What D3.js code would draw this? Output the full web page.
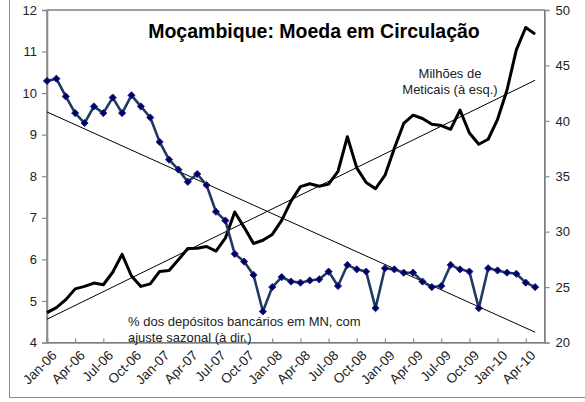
<!DOCTYPE html>
<html><head><meta charset="utf-8">
<script src="https://cdn.jsdelivr.net/npm/d3@7"></script>
<style>
body{margin:0;background:#fff}
svg{display:block}
text{font-family:"Liberation Sans",Arial,Helvetica,sans-serif}
</style>
</head><body>
<svg id="chart" width="585" height="402"></svg>
<script>
// ---- data ----
const months = [
 "Jan-06","Feb-06","Mar-06","Apr-06","May-06","Jun-06","Jul-06","Aug-06","Sep-06","Oct-06","Nov-06","Dec-06",
 "Jan-07","Feb-07","Mar-07","Apr-07","May-07","Jun-07","Jul-07","Aug-07","Sep-07","Oct-07","Nov-07","Dec-07",
 "Jan-08","Feb-08","Mar-08","Apr-08","May-08","Jun-08","Jul-08","Aug-08","Sep-08","Oct-08","Nov-08","Dec-08",
 "Jan-09","Feb-09","Mar-09","Apr-09","May-09","Jun-09","Jul-09","Aug-09","Sep-09","Oct-09","Nov-09","Dec-09",
 "Jan-10","Feb-10","Mar-10","Apr-10","May-10"];
const tickLabels = ["Jan-06","Apr-06","Jul-06","Oct-06","Jan-07","Apr-07","Jul-07","Oct-07","Jan-08",
 "Apr-08","Jul-08","Oct-08","Jan-09","Apr-09","Jul-09","Oct-09","Jan-10","Apr-10"];
// Moeda em circulação, milhões de meticais (eixo esquerdo)
const circulacao = [4.72,4.84,5.03,5.29,5.35,5.43,5.39,5.69,6.12,5.60,5.35,5.41,
 5.71,5.73,5.99,6.26,6.27,6.31,6.20,6.51,7.14,6.77,6.38,6.46,
 6.60,6.94,7.40,7.75,7.82,7.76,7.81,8.12,8.95,8.20,7.85,7.70,
 8.02,8.67,9.27,9.47,9.39,9.25,9.22,9.13,9.59,9.04,8.77,8.89,
 9.37,10.07,11.04,11.58,11.42];
// % dos depósitos bancários em MN (eixo direito)
const depositosPct = [43.6,43.8,42.2,40.7,39.8,41.3,40.7,42.1,40.7,42.3,41.3,40.3,
 38.1,36.5,35.6,34.5,35.2,34.2,31.8,31.0,28.0,27.3,26.1,22.8,
 25.0,25.9,25.5,25.4,25.6,25.7,26.4,25.1,27.0,26.6,26.4,23.1,
 26.7,26.6,26.3,26.3,25.5,25.0,25.1,27.0,26.6,26.4,23.1,26.7,
 26.5,26.3,26.2,25.4,25.0];
// linear trend end values (first and last month)
const trendCirculacao = [4.56, 10.31];
const trendDepositos = [40.8, 20.93];
const leftTicks = [4,5,6,7,8,9,10,11,12];
const rightTicks = [20,25,30,35,40,45,50];
const title = "Moçambique: Moeda em Circulação";
const noteLeft = ["Milhões de","Meticais (à esq.)"];
const noteRight = ["% dos depósitos bancários em MN, com","ajuste sazonal (à dir.)"];

// ---- layout ----
const svg = d3.select("#chart");
const L = 47, R = 544.5, T = 10, B = 342.5;
const x = d3.scaleLinear().domain([0, months.length]).range([L, R]);
const yL = d3.scaleLinear().domain([4, 12]).range([B, T]);
const yR = d3.scaleLinear().domain([20, 50]).range([B, T]);
const idx = m => months.indexOf(m);

// outer frame
svg.append("rect").attr("x",9.5).attr("y",-5).attr("width",600).attr("height",402.5)
  .attr("fill","none").attr("stroke","#8c8c8c").attr("stroke-width",1);

// plot area frame
svg.append("rect").attr("x",L).attr("y",T).attr("width",R-L).attr("height",B-T)
  .attr("fill","none").attr("stroke","#404040").attr("stroke-width",1);

// left axis
const gL = svg.append("g").attr("transform",`translate(${L},0)`)
  .call(d3.axisLeft(yL).tickValues(leftTicks).tickSize(5).tickPadding(5).tickFormat(d3.format("d")));
// right axis
const gR = svg.append("g").attr("transform",`translate(${R},0)`)
  .call(d3.axisRight(yR).tickValues(rightTicks).tickSize(5).tickPadding(6).tickFormat(d3.format("d")));
// bottom axis (ticks inside)
const gB = svg.append("g").attr("transform",`translate(0,${B})`)
  .call(d3.axisBottom(x).tickValues(tickLabels.map(idx)).tickSize(-4).tickFormat(""));
[gL,gR,gB].forEach(g=>{
  g.select(".domain").attr("stroke","#8c8c8c").attr("stroke-width",1.6);
  g.selectAll(".tick line").attr("stroke","#8c8c8c").attr("stroke-width",1.2);
  g.selectAll(".tick text").attr("fill","#222").style("font-size","13px")
   .style("font-family",'"Liberation Sans",Arial,sans-serif');
});

// x tick labels rotated
svg.append("g").selectAll("text").data(tickLabels).join("text")
  .attr("transform", d => `translate(${x(idx(d))+4},${B+7}) rotate(-45)`)
  .attr("text-anchor","end").attr("dy","0.7em")
  .attr("fill","#222").style("font-size","13.5px").text(d=>d);

// trend lines
const last = months.length - 1;
svg.append("line").attr("x1",x(0)).attr("y1",yL(trendCirculacao[0]))
  .attr("x2",x(last)).attr("y2",yL(trendCirculacao[1]))
  .attr("stroke","#000").attr("stroke-width",1);
svg.append("line").attr("x1",x(0)).attr("y1",yR(trendDepositos[0]))
  .attr("x2",x(last)).attr("y2",yR(trendDepositos[1]))
  .attr("stroke","#000").attr("stroke-width",1);

// black line (circulação)
svg.append("path").datum(circulacao)
  .attr("d", d3.line().x((d,i)=>x(i)).y(d=>yL(d)))
  .attr("fill","none").attr("stroke","#000").attr("stroke-width",3)
  .attr("stroke-linejoin","round");

// blue line with diamonds (depósitos)
svg.append("path").datum(depositosPct)
  .attr("d", d3.line().x((d,i)=>x(i)).y(d=>yR(d)))
  .attr("fill","none").attr("stroke","#1f3a60").attr("stroke-width",2.6)
  .attr("stroke-linejoin","round");
const sym = d3.symbol().type(d3.symbolSquare).size(26);
svg.append("g").selectAll("path").data(depositosPct).join("path")
  .attr("d", sym)
  .attr("transform",(d,i)=>`translate(${x(i)},${yR(d)}) rotate(45)`)
  .attr("fill","#000066").attr("stroke","#1a1a80").attr("stroke-width",0.8);

// title
svg.append("text").attr("x",314).attr("y",38).attr("text-anchor","middle")
  .style("font-size","19.5px").style("font-weight","bold").attr("fill","#000").text(title);

// notes
svg.append("text").attr("text-anchor","middle").attr("fill","#222").style("font-size","13px")
  .selectAll("tspan").data(noteLeft).join("tspan")
  .attr("x",450).attr("y",(d,i)=>78+i*16).text(d=>d);
svg.append("text").attr("fill","#222").style("font-size","13px")
  .selectAll("tspan").data(noteRight).join("tspan")
  .attr("x",128).attr("y",(d,i)=>326+i*16).text(d=>d);
</script>
</body></html>
